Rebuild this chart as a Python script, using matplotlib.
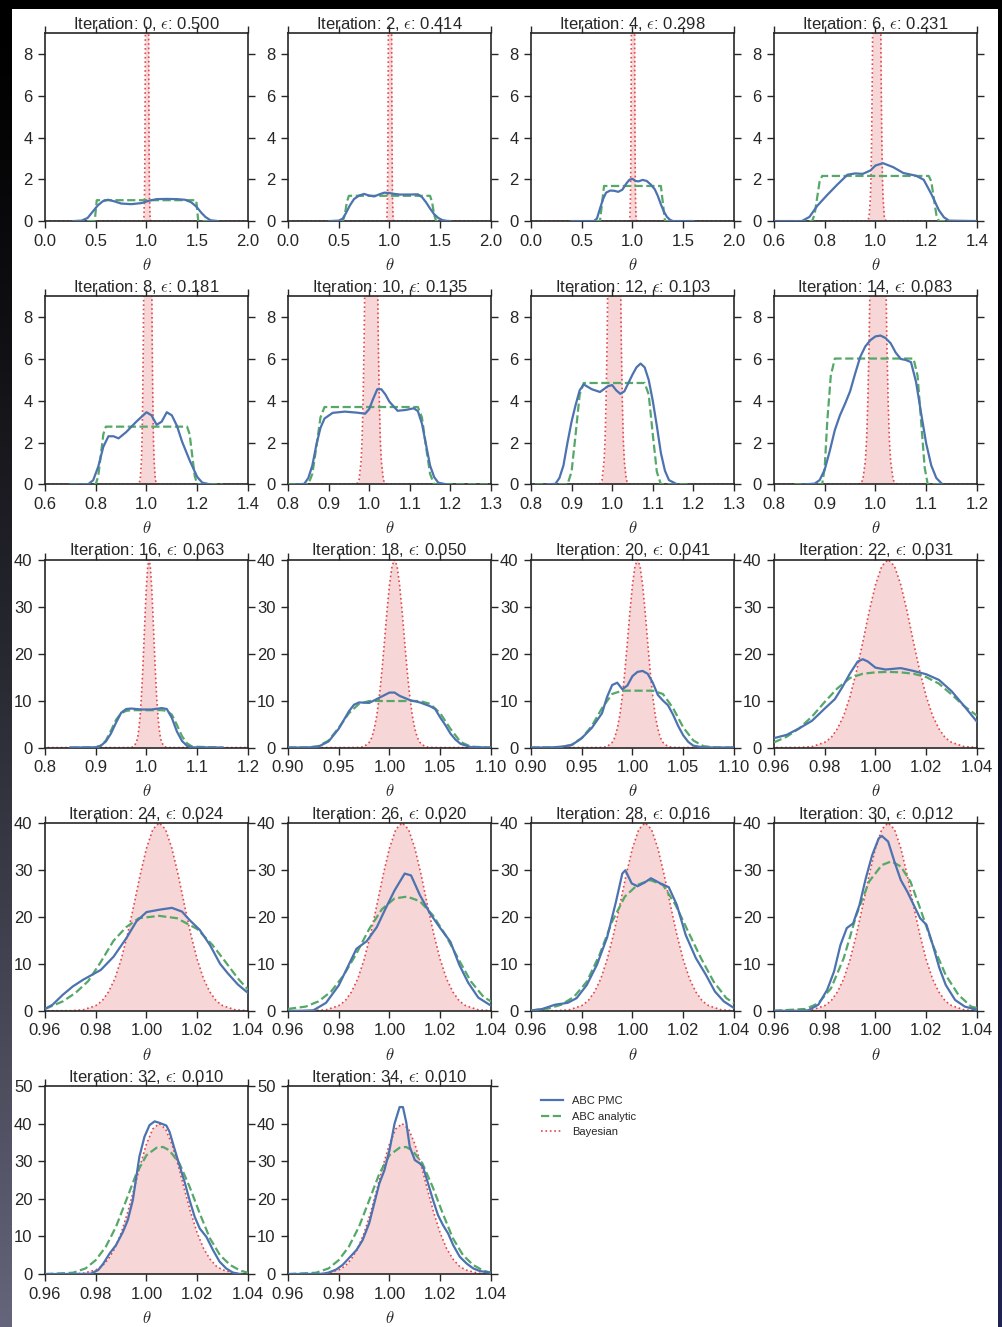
import numpy as np
import matplotlib
matplotlib.use("Agg")
import matplotlib.pyplot as plt
from matplotlib.ticker import MultipleLocator
from matplotlib.lines import Line2D
from matplotlib.patches import Rectangle

plt.rcParams['font.family'] = ['Liberation Sans', 'DejaVu Sans']
plt.rcParams['mathtext.fontset'] = 'cm'

BLUE, GREEN, RED = '#4c72b0', '#55a868', '#e2474b'
PINK = '#f6d6d7'
INK = '#262626'

iterations = [0, 2, 4, 6, 8, 10, 12, 14, 16, 18, 20, 22, 24, 26, 28, 30, 32, 34]
epsilons = [0.500, 0.414, 0.298, 0.231, 0.181, 0.135, 0.103, 0.083, 0.063,
            0.050, 0.041, 0.031, 0.024, 0.020, 0.016, 0.012, 0.010, 0.010]
x_limits = [(0, 2), (0, 2), (0, 2), (0.6, 1.4),
            (0.6, 1.4), (0.8, 1.3), (0.8, 1.3), (0.8, 1.2),
            (0.8, 1.2), (0.9, 1.1), (0.9, 1.1), (0.96, 1.04),
            (0.96, 1.04), (0.96, 1.04), (0.96, 1.04), (0.96, 1.04),
            (0.96, 1.04), (0.96, 1.04)]
x_steps = [0.5, 0.5, 0.5, 0.2, 0.2, 0.1, 0.1, 0.1, 0.1,
           0.05, 0.05, 0.02, 0.02, 0.02, 0.02, 0.02, 0.02, 0.02]
y_tops = [9] * 8 + [40] * 8 + [50] * 2
y_steps = [2] * 8 + [10] * 10

# exact posterior (same in every panel)
bayes_x = [0.0, 0.96, 0.97, 0.975, 0.98, 0.9825, 0.985, 0.9875, 0.99, 0.9925,
           0.995, 0.9975, 1.0, 1.0025, 1.005, 1.0075, 1.01, 1.0125, 1.015,
           1.0175, 1.02, 1.0225, 1.025, 1.0275, 1.03, 1.035, 1.04, 1.05, 2.0]
bayes_y = [0, 0, 0.03, 0.2, 1.1, 2.1, 4.0, 6.8, 10.9, 16.2, 22.4, 28.9, 34.6,
           38.6, 40.0, 38.6, 34.6, 28.9, 22.4, 16.2, 10.9, 6.8, 4.0, 2.1, 1.1,
           0.2, 0.03, 0, 0]

# ABC PMC density estimates
pmc_x_00 = [0.28, 0.36, 0.42, 0.47, 0.52, 0.57, 0.62, 0.68, 0.75, 0.85, 0.95,
            1.03, 1.1, 1.2, 1.3, 1.38, 1.44, 1.49, 1.54, 1.58, 1.63, 1.7]
pmc_y_00 = [0, 0.02, 0.15, 0.45, 0.75, 0.95, 1.02, 0.95, 0.84, 0.81, 0.86,
            0.98, 1.05, 1.06, 1.05, 1.02, 0.9, 0.7, 0.4, 0.2, 0.04, 0]
pmc_x_02 = [0.41, 0.5, 0.54, 0.57, 0.61, 0.65, 0.7, 0.75, 0.8, 0.85, 0.9, 0.95,
            1.0, 1.05, 1.1, 1.2, 1.28, 1.32, 1.36, 1.4, 1.44, 1.48, 1.52, 1.56, 1.6]
pmc_y_02 = [0, 0.02, 0.12, 0.37, 0.75, 1.05, 1.22, 1.3, 1.22, 1.18, 1.28, 1.36,
            1.34, 1.3, 1.27, 1.27, 1.28, 1.15, 0.9, 0.6, 0.33, 0.15, 0.05, 0.01, 0]
pmc_x_04 = [0.4, 0.62, 0.65, 0.68, 0.71, 0.74, 0.78, 0.82, 0.86, 0.9, 0.94, 0.97,
            1.0, 1.03, 1.06, 1.1, 1.14, 1.18, 1.22, 1.25, 1.28, 1.31, 1.34, 1.37,
            1.4, 1.6]
pmc_y_04 = [0, 0, 0.12, 0.6, 1.05, 1.36, 1.46, 1.45, 1.4, 1.5, 1.8, 1.98, 2.02,
            1.92, 1.9, 1.97, 1.92, 1.75, 1.52, 1.2, 0.8, 0.45, 0.2, 0.06, 0, 0]
pmc_x_06 = [0.6, 0.71, 0.74, 0.77, 0.81, 0.85, 0.89, 0.92, 0.95, 0.98, 1.0, 1.03,
            1.07, 1.11, 1.16, 1.19, 1.22, 1.25, 1.27, 1.29, 1.4]
pmc_y_06 = [0, 0, 0.2, 0.72, 1.25, 1.75, 2.22, 2.28, 2.26, 2.42, 2.66, 2.77,
            2.58, 2.3, 2.17, 1.98, 1.3, 0.52, 0.18, 0.02, 0]
pmc_x_08 = [0.7, 0.77, 0.79, 0.81, 0.83, 0.85, 0.87, 0.89, 0.92, 0.96, 1.0, 1.02,
            1.04, 1.06, 1.08, 1.1, 1.12, 1.14, 1.17, 1.2, 1.22, 1.25]
pmc_y_08 = [0, 0, 0.2, 0.85, 1.8, 2.3, 2.3, 2.2, 2.5, 3.0, 3.45, 3.3, 2.85, 3.0,
            3.45, 3.3, 2.8, 2.05, 1.15, 0.35, 0.08, 0]
pmc_x_10 = [0.82, 0.84, 0.85, 0.86, 0.87, 0.88, 0.89, 0.91, 0.94, 0.97, 0.99,
            1.0, 1.01, 1.02, 1.03, 1.04, 1.05, 1.07, 1.09, 1.11, 1.12, 1.13,
            1.14, 1.15, 1.16, 1.17, 1.19]
pmc_y_10 = [0, 0.02, 0.3, 0.9, 1.9, 2.7, 3.15, 3.42, 3.48, 3.43, 3.38, 3.6, 4.1,
            4.55, 4.55, 4.3, 3.95, 3.52, 3.56, 3.64, 3.5, 2.9, 1.9, 0.9, 0.35,
            0.08, 0]
pmc_x_12 = [0.84, 0.86, 0.87, 0.88, 0.89, 0.9, 0.91, 0.92, 0.93, 0.95, 0.97,
            0.99, 1.0, 1.01, 1.02, 1.03, 1.04, 1.05, 1.06, 1.07, 1.08, 1.09, 1.1,
            1.11, 1.12, 1.13, 1.14, 1.16]
pmc_y_12 = [0, 0.02, 0.3, 0.9, 2.0, 3.0, 3.8, 4.5, 4.78, 4.55, 4.42, 4.7, 4.75,
            4.5, 4.33, 4.45, 4.85, 5.25, 5.6, 5.78, 5.6, 5.0, 4.0, 2.8, 1.5,
            0.65, 0.2, 0]
pmc_x_14 = [0.86, 0.88, 0.89, 0.9, 0.91, 0.92, 0.93, 0.94, 0.95, 0.96, 0.97,
            0.98, 0.99, 1.0, 1.01, 1.02, 1.03, 1.04, 1.05, 1.06, 1.07, 1.08,
            1.09, 1.1, 1.11, 1.12, 1.13]
pmc_y_14 = [0, 0.03, 0.2, 0.7, 1.6, 2.6, 3.3, 3.85, 4.45, 5.3, 6.1, 6.6, 6.9,
            7.08, 7.12, 7.0, 6.75, 6.3, 6.0, 5.95, 5.85, 4.9, 3.4, 1.95, 0.9,
            0.3, 0.05]
pmc_x_16 = [0.85, 0.9, 0.91, 0.92, 0.93, 0.94, 0.95, 0.96, 0.97, 0.99, 1.01,
            1.03, 1.04, 1.05, 1.06, 1.07, 1.08, 1.09, 1.15]
pmc_y_16 = [0, 0.05, 0.4, 1.3, 3.0, 5.3, 7.4, 8.2, 8.3, 8.1, 8.1, 8.4, 8.2,
            6.3, 3.4, 1.4, 0.35, 0.05, 0]
pmc_x_18 = [0.9, 0.92, 0.93, 0.94, 0.95, 0.96, 0.965, 0.97, 0.98, 0.99, 1.0,
            1.005, 1.01, 1.02, 1.03, 1.04, 1.045, 1.05, 1.055, 1.06, 1.065,
            1.07, 1.08, 1.1]
pmc_y_18 = [0, 0.02, 0.2, 1.3, 4.0, 7.7, 9.1, 9.6, 9.5, 10.6, 11.7, 11.7, 11.0,
            10.1, 9.6, 8.8, 8.2, 6.4, 4.8, 3.0, 1.7, 0.8, 0.1, 0]
pmc_x_20 = [0.9, 0.92, 0.93, 0.94, 0.95, 0.96, 0.97, 0.975, 0.98, 0.985, 0.99,
            0.995, 1.0, 1.005, 1.01, 1.015, 1.02, 1.025, 1.03, 1.035, 1.04,
            1.045, 1.05, 1.055, 1.06, 1.07, 1.1]
pmc_y_20 = [0, 0.02, 0.2, 0.5, 2.0, 4.2, 7.3, 10.8, 13.3, 13.8, 12.4, 13.2,
            15.2, 16.1, 16.3, 15.7, 13.8, 11.2, 10.0, 9.0, 7.0, 4.6, 2.6, 1.2,
            0.4, 0.02, 0]
pmc_x_22 = [0.96, 0.965, 0.97, 0.975, 0.98, 0.984, 0.987, 0.99, 0.993, 0.995,
            0.997, 1.0, 1.004, 1.01, 1.015, 1.02, 1.025, 1.03, 1.035, 1.04]
pmc_y_22 = [2.0, 2.7, 4.1, 5.7, 8.3, 10.3, 12.9, 15.8, 18.3, 18.8, 18.3, 17.0,
            16.6, 16.9, 16.3, 15.6, 14.4, 12.0, 8.8, 5.5]
pmc_x_24 = [0.96, 0.963, 0.967, 0.971, 0.975, 0.978, 0.982, 0.987, 0.992, 0.996,
            1.0, 1.005, 1.01, 1.014, 1.017, 1.021, 1.025, 1.029, 1.032, 1.036,
            1.04]
pmc_y_24 = [0.4, 1.3, 3.4, 5.2, 6.6, 7.5, 8.7, 11.5, 15.4, 19.0, 21.0, 21.5,
            21.9, 21.1, 19.3, 17.2, 14.0, 10.0, 8.0, 5.6, 3.8]
pmc_x_26 = [0.96, 0.965, 0.97, 0.975, 0.98, 0.9835, 0.987, 0.991, 0.995, 0.9985,
            1.002, 1.006, 1.0085, 1.012, 1.016, 1.02, 1.024, 1.0275, 1.031,
            1.035, 1.04]
pmc_y_26 = [0, 0, 0.1, 1.7, 5.4, 9.3, 13.2, 14.8, 17.8, 21.8, 25.6, 29.2, 28.8,
            24.6, 20.7, 17.6, 14.7, 9.8, 6.0, 2.8, 1.1]
pmc_x_28 = [0.96, 0.9645, 0.9695, 0.9745, 0.978, 0.982, 0.986, 0.99, 0.9935,
            0.996, 0.9972, 0.9997, 1.002, 1.0048, 1.0073, 1.011, 1.0143, 1.0175,
            1.021, 1.025, 1.029, 1.0325, 1.036, 1.04]
pmc_y_28 = [0, 0.4, 1.3, 1.7, 2.7, 5.5, 9.8, 15.6, 23.2, 29.2, 29.9, 27.1, 26.5,
            27.3, 28.2, 27.1, 26.3, 22.5, 16.1, 11.2, 7.6, 4.1, 2.0, 0.6]
pmc_x_30 = [0.96, 0.97, 0.9735, 0.9775, 0.981, 0.9837, 0.9862, 0.9887, 0.9912,
            0.9937, 0.9962, 0.9987, 1.0013, 1.0025, 1.005, 1.0075, 1.01, 1.0126,
            1.0151, 1.0176, 1.0201, 1.0226, 1.0252, 1.0277, 1.0314, 1.0352, 1.04]
pmc_y_30 = [0, 0, 0.1, 1.3, 4.5, 8.4, 14.0, 17.6, 18.6, 22.5, 28.2, 33.1, 36.7,
            37.2, 36.0, 31.7, 27.8, 25.3, 22.5, 19.7, 18.3, 14.0, 9.1, 5.5, 2.3,
            0.9, 0.2]
pmc_x_32 = [0.96, 0.978, 0.981, 0.983, 0.9855, 0.988, 0.9907, 0.9926, 0.9946,
            0.9959, 0.9972, 0.9992, 1.0012, 1.0032, 1.0051, 1.0078, 1.0091, 1.011,
            1.013, 1.015, 1.017, 1.019, 1.021, 1.0236, 1.0262, 1.0288, 1.0314,
            1.034, 1.037]
pmc_y_32 = [0, 0.05, 1.1, 2.8, 5.5, 7.7, 11.2, 14.3, 19.6, 25.4, 31.2, 36.5,
            39.6, 40.6, 40.2, 39.5, 37.8, 33.4, 28.9, 24.5, 19.6, 15.2, 12.1, 9.9,
            6.4, 3.3, 1.5, 0.4, 0]
pmc_x_34 = [0.96, 0.9735, 0.976, 0.979, 0.9815, 0.984, 0.987, 0.9894, 0.992,
            0.994, 0.996, 0.998, 1.0, 1.002, 1.004, 1.0053, 1.0066, 1.008, 1.01,
            1.012, 1.0132, 1.0152, 1.0172, 1.0191, 1.0211, 1.0231, 1.0251,
            1.0277, 1.0304, 1.033, 1.0356, 1.04]
pmc_y_34 = [0, 0.05, 0.4, 1.2, 2.4, 4.2, 6.4, 9.0, 13.5, 18.8, 24.1, 27.6, 32.9,
            40.0, 44.4, 44.4, 40.4, 33.8, 30.3, 29.4, 28.5, 24.1, 19.6, 15.7,
            13.0, 10.8, 7.7, 4.6, 2.8, 1.5, 0.8, 0.35]

# ABC analytic posteriors
ana_x_00 = [0.3, 0.49, 0.51, 1.49, 1.51, 1.7]
ana_y_00 = [0, 0, 1.0, 1.0, 0, 0]
ana_x_02 = [0.4, 0.54, 0.56, 0.58, 0.6, 1.4, 1.42, 1.44, 1.46, 1.6]
ana_y_02 = [0, 0, 0.3, 0.9, 1.21, 1.21, 0.9, 0.3, 0, 0]
ana_x_04 = [0.4, 0.68, 0.70, 0.72, 1.28, 1.30, 1.32, 1.6]
ana_y_04 = [0, 0, 0.85, 1.68, 1.68, 0.85, 0, 0]
ana_x_06 = [0.6, 0.75, 0.76, 0.77, 0.78, 0.79, 1.21, 1.22, 1.23, 1.24, 1.25, 1.4]
ana_y_06 = [0, 0, 0.3, 1.1, 1.9, 2.16, 2.16, 1.9, 1.1, 0.3, 0, 0]
ana_x_08 = [0.7, 0.80, 0.81, 0.82, 0.83, 0.84, 1.16, 1.17, 1.18, 1.19, 1.2, 1.3]
ana_y_08 = [0, 0, 0.4, 1.4, 2.4, 2.76, 2.76, 2.4, 1.4, 0.4, 0, 0]
ana_x_10 = [0.8, 0.85, 0.86, 0.87, 0.88, 0.89, 1.12, 1.13, 1.14, 1.15, 1.16, 1.3]
ana_y_10 = [0, 0, 0.5, 1.8, 3.2, 3.7, 3.7, 3.2, 1.8, 0.5, 0, 0]
ana_x_12 = [0.81, 0.89, 0.9, 0.91, 0.92, 0.93, 1.08, 1.09, 1.10, 1.11, 1.12, 1.19]
ana_y_12 = [0, 0, 0.6, 2.4, 4.3, 4.85, 4.85, 4.3, 2.4, 0.6, 0, 0]
ana_x_14 = [0.84, 0.895, 0.9, 0.905, 0.912, 0.92, 1.075, 1.083, 1.09, 1.097,
            1.103, 1.13]
ana_y_14 = [0, 0, 0.8, 3.0, 5.2, 6.02, 6.02, 5.2, 3.0, 0.8, 0, 0]
ana_x_16 = [0.85, 0.9, 0.91, 0.92, 0.93, 0.94, 0.95, 0.96, 0.97, 1.03, 1.04,
            1.05, 1.06, 1.07, 1.08, 1.09, 1.15]
ana_y_16 = [0, 0.05, 0.4, 1.5, 3.6, 5.9, 7.3, 7.8, 7.95, 7.95, 7.8, 7.0, 4.8,
            2.4, 0.9, 0.2, 0]
ana_x_18 = [0.9, 0.92, 0.93, 0.94, 0.95, 0.96, 0.97, 0.98, 1.03, 1.04, 1.05,
            1.06, 1.07, 1.08, 1.1]
ana_y_18 = [0, 0.05, 0.3, 1.5, 4.2, 7.3, 9.3, 9.9, 9.9, 9.3, 7.3, 4.0, 1.2, 0.2, 0]
ana_x_20 = [0.9, 0.93, 0.94, 0.95, 0.96, 0.97, 0.98, 0.99, 1.02, 1.03, 1.04,
            1.05, 1.06, 1.07, 1.08, 1.1]
ana_y_20 = [0, 0.1, 0.6, 2.0, 4.6, 8.4, 11.4, 12.1, 12.1, 11.4, 8.4, 4.3, 1.5,
            0.3, 0.05, 0]
ana_x_22 = [0.96, 0.965, 0.97, 0.975, 0.98, 0.985, 0.99, 0.995, 1.0, 1.005,
            1.01, 1.015, 1.02, 1.025, 1.03, 1.035, 1.04]
ana_y_22 = [1.1, 2.3, 4.1, 6.6, 9.7, 12.6, 14.8, 15.7, 16.0, 16.1, 16.0, 15.7,
            15.0, 13.6, 11.3, 8.8, 6.8]
ana_x_24 = [0.96, 0.967, 0.972, 0.977, 0.982, 0.987, 0.992, 0.997, 1.005, 1.012,
            1.02, 1.026, 1.031, 1.036, 1.04]
ana_y_24 = [0.4, 2.0, 3.8, 6.3, 10.4, 14.9, 17.8, 19.7, 20.2, 19.7, 17.4, 14.0,
            10.5, 6.9, 4.5]
ana_x_26 = [0.96, 0.967, 0.972, 0.977, 0.982, 0.987, 0.992, 0.997, 1.002, 1.007,
            1.012, 1.017, 1.022, 1.027, 1.032, 1.037, 1.04]
ana_y_26 = [0.4, 0.9, 2.0, 4.1, 7.6, 12.2, 17.4, 21.6, 23.9, 24.3, 23.3, 20.4,
            16.2, 11.2, 6.3, 3.0, 2.0]
ana_x_28 = [0.96, 0.967, 0.972, 0.977, 0.982, 0.987, 0.992, 0.997, 1.002, 1.007,
            1.012, 1.017, 1.022, 1.027, 1.032, 1.037, 1.04]
ana_y_28 = [0.1, 0.5, 1.3, 3.0, 6.2, 11.9, 19.0, 24.3, 26.8, 27.8, 26.8, 22.5,
            16.8, 11.2, 6.2, 2.7, 1.6]
ana_x_30 = [0.96, 0.9725, 0.9775, 0.9825, 0.9875, 0.9925, 0.9975, 1.0025,
            1.0063, 1.01, 1.0138, 1.0176, 1.0226, 1.0277, 1.0327, 1.0377, 1.04]
ana_y_30 = [0, 0.4, 1.6, 4.8, 11.2, 20.4, 27.5, 31.0, 31.8, 30.7, 27.5, 21.8,
            14.0, 7.6, 3.4, 0.9, 0.6]
ana_x_32 = [0.96, 0.971, 0.976, 0.98, 0.984, 0.988, 0.992, 0.996, 1.0, 1.004,
            1.0065, 1.009, 1.013, 1.017, 1.021, 1.025, 1.029, 1.033, 1.037, 1.04]
ana_y_32 = [0, 0.35, 1.5, 3.7, 7.3, 12.6, 19.6, 26.7, 31.6, 33.6, 33.8, 32.9,
            29.4, 23.2, 16.1, 9.5, 5.0, 2.4, 0.9, 0.35]
ana_x_34 = ana_x_32
ana_y_34 = ana_y_32

pmc_curves = [(pmc_x_00, pmc_y_00), (pmc_x_02, pmc_y_02), (pmc_x_04, pmc_y_04),
              (pmc_x_06, pmc_y_06), (pmc_x_08, pmc_y_08), (pmc_x_10, pmc_y_10),
              (pmc_x_12, pmc_y_12), (pmc_x_14, pmc_y_14), (pmc_x_16, pmc_y_16),
              (pmc_x_18, pmc_y_18), (pmc_x_20, pmc_y_20), (pmc_x_22, pmc_y_22),
              (pmc_x_24, pmc_y_24), (pmc_x_26, pmc_y_26), (pmc_x_28, pmc_y_28),
              (pmc_x_30, pmc_y_30), (pmc_x_32, pmc_y_32), (pmc_x_34, pmc_y_34)]
ana_curves = [(ana_x_00, ana_y_00), (ana_x_02, ana_y_02), (ana_x_04, ana_y_04),
              (ana_x_06, ana_y_06), (ana_x_08, ana_y_08), (ana_x_10, ana_y_10),
              (ana_x_12, ana_y_12), (ana_x_14, ana_y_14), (ana_x_16, ana_y_16),
              (ana_x_18, ana_y_18), (ana_x_20, ana_y_20), (ana_x_22, ana_y_22),
              (ana_x_24, ana_y_24), (ana_x_26, ana_y_26), (ana_x_28, ana_y_28),
              (ana_x_30, ana_y_30), (ana_x_32, ana_y_32), (ana_x_34, ana_y_34)]

fig, axes = plt.subplots(5, 4, figsize=(10.02, 13.27), dpi=100,
                         gridspec_kw=dict(left=0.0449, right=0.975, top=0.9751,
                                          bottom=0.0399, wspace=0.197, hspace=0.40))
fig.patch.set_facecolor('black')

# dark backdrop with a white page on top of it
bg = fig.add_axes([0, 0, 1, 1], zorder=-10)
ty = np.linspace(0, 1, 64)[:, None, None] ** 1.3
tx = np.linspace(0, 1, 2)[None, :, None]
left_col = np.array([100, 100, 122]) / 255
right_col = np.array([32, 36, 82]) / 255
bg.imshow(ty * (left_col * (1 - tx) + right_col * tx), aspect='auto',
          interpolation='bilinear', extent=[0, 1, 0, 1], origin='upper')
bg.set_axis_off()
fig.add_artist(Rectangle((12 / 1002, 0), 986 / 1002, 1318 / 1327,
                         transform=fig.transFigure, facecolor='white',
                         edgecolor='none', zorder=-5))

flat = axes.ravel()
for i, ax in enumerate(flat[:18]):
    ax.fill_between(bayes_x, bayes_y, color=PINK, lw=0, zorder=1)
    ax.plot(bayes_x, bayes_y, ls=':', color=RED, lw=1.2, zorder=2)
    ax.plot(*ana_curves[i], ls='--', color=GREEN, lw=1.6, zorder=3)
    ax.plot(*pmc_curves[i], color=BLUE, lw=1.6, zorder=4)

    ax.set_xlim(*x_limits[i])
    ax.set_ylim(0, y_tops[i])
    ax.xaxis.set_major_locator(MultipleLocator(x_steps[i]))
    ax.yaxis.set_major_locator(MultipleLocator(y_steps[i]))
    ax.tick_params(direction='out', top=True, right=True, length=5, width=1,
                   color=INK, labelsize=12, labelcolor=INK, pad=4)
    for sp in ax.spines.values():
        sp.set_color(INK)
        sp.set_linewidth(1.2)
    ax.set_title(f"Iteration: {iterations[i]}, $\\epsilon$: {epsilons[i]:.3f}",
                 fontsize=12, color=INK, pad=3)
    ax.set_xlabel(r'$\theta$', fontsize=12, color=INK, labelpad=6)

leg_ax = flat[18]
leg_ax.set_axis_off()
flat[19].remove()
handles = [Line2D([], [], color=BLUE, lw=1.6),
           Line2D([], [], color=GREEN, lw=1.6, ls='--'),
           Line2D([], [], color=RED, lw=1.2, ls=':')]
leg_ax.legend(handles, ['ABC PMC', 'ABC analytic', 'Bayesian'], loc='upper left',
              frameon=False, fontsize=8, labelcolor=INK)

fig.savefig('out.png', dpi=100, facecolor=fig.get_facecolor())
